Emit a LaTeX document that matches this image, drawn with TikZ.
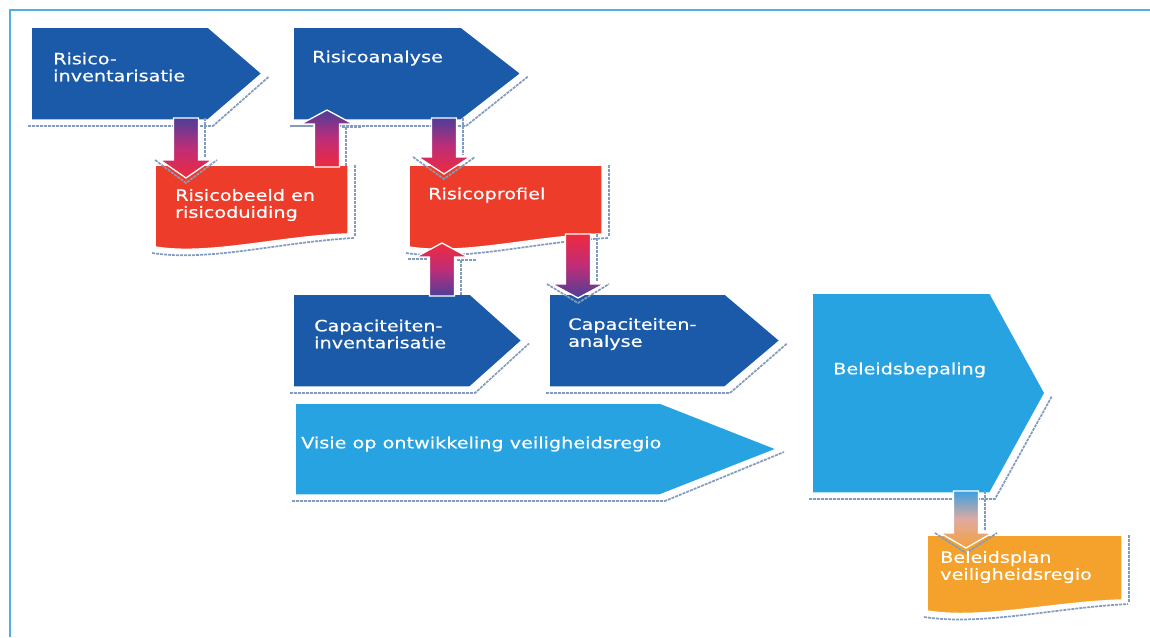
\documentclass[tikz,border=0pt]{standalone}
\usepackage{fontspec}
\setmainfont{DejaVu Sans}[FakeStretch=1.24,FakeBold=0.5]
\definecolor{dblue}{RGB}{26,90,168}
\definecolor{lblue}{RGB}{40,163,226}
\definecolor{rred}{RGB}{238,60,42}
\definecolor{orng}{RGB}{244,162,44}
\definecolor{apurple}{RGB}{78,62,152}
\definecolor{amag}{RGB}{190,45,120}
\definecolor{ared}{RGB}{238,42,62}
\definecolor{ablue}{RGB}{60,160,222}
\definecolor{abeige}{RGB}{225,170,160}
\definecolor{aorange}{RGB}{242,160,60}
\definecolor{shad}{RGB}{130,155,190}
\definecolor{framec}{RGB}{80,175,228}
\tikzset{
  shadowline/.style={draw=shad, line width=1.7pt, dash pattern=on 3pt off 1pt},
  shapebody/.style={draw=white, line width=1.5pt, line join=miter},
  lbl/.style={text=white, font=\fontsize{15.5}{17}\selectfont, align=left, inner sep=0pt, anchor=west}
}
% pentagon arrow: x1 y1 x2 x3 y2 colour
\newcommand\pentshape[6]{%
  \draw[shadowline] ({#1-3},{#5+6}) -- ({#3+5},{#5+6}) -- ({#4+7},{(#2+#5)/2+3});
  \path[shapebody, fill=#6] (#1,#2) -- (#3,#2) -- (#4,{(#2+#5)/2}) -- (#3,#5) -- (#1,#5) -- cycle;}
% document shape: L T R BL BR colour
\newcommand\docshape[6]{%
  \draw[shadowline] ({#3+7},#2) -- ({#3+7},{#5+3});
  \draw[shadowline] ({#1-3},{#4+6}) .. controls ({#1+0.28*(#3-#1)},{#4+15}) and ({#1+0.65*(#3-#1)},{#5+8}) .. ({#3+6},{#5+4});
  \path[shapebody, fill=#6] (#1,#2) -- (#3,#2) -- (#3,#5) .. controls ({#1+0.65*(#3-#1)},{#5+2}) and ({#1+0.28*(#3-#1)},{#4+9}) .. (#1,#4) -- cycle;}
% down block arrow: cx ytop ybase ytip topcol midcol botcol
\newcommand\arrdown[7]{%
  \draw[shadowline] ({#1+19},#2) -- ({#1+19},{#3-2});
  \draw[shadowline] ({#1-31},{#3}) -- (#1,{#4+5}) -- ({#1+31},{#3});
  \path[top color=#5, bottom color=#7, middle color=#6, draw=white, line width=1.3pt]
    ({#1-12.5},#2) -- ({#1+12.5},#2) -- ({#1+12.5},#3) -- ({#1+26},#3) -- (#1,#4) -- ({#1-26},#3) -- ({#1-12.5},#3) -- cycle;}
% up block arrow: cx ybottom ybase ytip topcol midcol botcol
\newcommand\arrup[7]{%
  \draw[shadowline] ({#1-34},{#3+2}) -- ({#1-15},{#3+2});
  \draw[shadowline] ({#1+15},{#3+3}) -- ({#1+34},{#3+3});
  \draw[shadowline] ({#1+19},{#3+3}) -- ({#1+19},#2);
  \path[top color=#5, bottom color=#7, middle color=#6, draw=white, line width=1.3pt]
    ({#1-12.5},#2) -- ({#1-12.5},#3) -- ({#1-26},#3) -- (#1,#4) -- ({#1+26},#3) -- ({#1+12.5},#3) -- ({#1+12.5},#2) -- cycle;}
\begin{document}
\begin{tikzpicture}[x=1pt,y=-1pt]
\useasboundingbox (0,0) rectangle (1150,637);
\fill[white] (0,0) rectangle (1150,637);
\draw[framec, line width=2pt] (10,637) -- (10,10) -- (1150,10);

% shapes
\pentshape{31}{27}{208}{262}{120}{dblue}
\pentshape{293}{27}{461}{521}{120}{dblue}
\docshape{155}{165}{348}{247}{234}{rred}
\docshape{409}{165}{602}{247}{234}{rred}
\pentshape{293}{294}{470}{522}{387}{dblue}
\pentshape{549}{294}{725}{780}{387}{dblue}
\pentshape{295}{403}{660}{777}{495}{lblue}
\pentshape{812}{293}{990}{1045}{493}{lblue}
\docshape{927}{535}{1122}{611}{600}{orng}

% arrows
\arrdown{186}{118}{160}{178}{apurple}{amag}{ared}
\arrup{327}{167}{124}{110}{apurple}{amag}{ared}
\arrdown{444}{118}{157}{174}{apurple}{amag}{ared}
\arrup{442}{296}{257}{243}{ared}{amag}{apurple}
\arrdown{578}{234}{284}{298}{ared}{amag}{apurple}
\arrdown{966}{491}{533}{548}{ablue}{abeige}{aorange}

% labels
\node[lbl] (t1) at (53,67) {Risico-\\inventarisatie};
\node[lbl] (t2) at (312,58) {Risicoanalyse};
\node[lbl] (t3) at (175,205) {Risicobeeld en\\risicoduiding};
\node[lbl] (t4) at (428,195) {Risicoprofiel};
\node[lbl] (t5) at (314,334) {Capaciteiten-\\inventarisatie};
\node[lbl] (t6) at (568,334) {Capaciteiten-\\analyse};
\node[lbl] (t7) at (301,444) {Visie op ontwikkeling veiligheidsregio};
\node[lbl] (t8) at (833,370) {Beleidsbepaling};
\node[lbl] (t9) at (940,567) {Beleidsplan\\veiligheidsregio};
\end{tikzpicture}
\end{document}
